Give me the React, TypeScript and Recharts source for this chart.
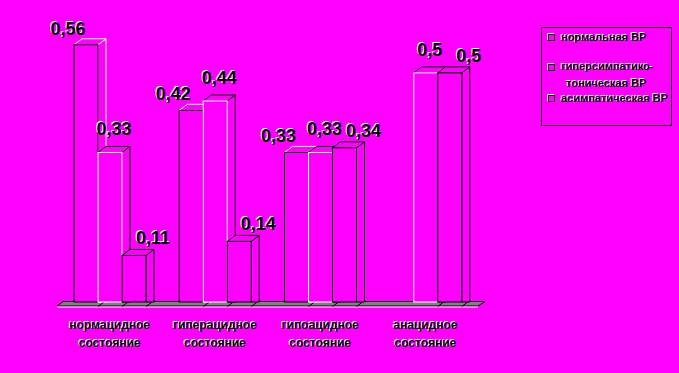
import { BarChart, Bar, XAxis, YAxis, LabelList, Legend, Customized } from 'recharts';

const categories = ['нормацидное состояние', 'гиперацидное состояние', 'гипоацидное состояние', 'анацидное состояние'];
const seriesNames = ['нормальная ВР', 'гиперсимпатико-тоническая ВР', 'асимпатическая ВР'];
const normalVR = [0.56, 0.42, 0.33, 0];
const hyperVR = [0.33, 0.44, 0.33, 0.5];
const asympVR = [0.11, 0.14, 0.34, 0.5];
const edgeTicks = [0, 1, 2, 3, 4];

const data = categories.map((name, i) => ({
  name,
  normal: normalVR[i],
  hyper: hyperVR[i],
  asymp: asympVR[i],
}));

const MAGENTA = '#ff00ff';
const FONT = '"Liberation Sans", Arial, sans-serif';
const W = 679;
const H = 373;
const LEFT = 57;
const RIGHT = 478;
const TOP = 26;
const BASE = 307;
const DX = 8;
const DY = 6;
const SINK = 5;

// black text with a white highlight, like the old office export
function ShadowText({ x, y, size, children, anchor = 'middle' }: any) {
  const common = { fontFamily: FONT, fontWeight: 700, fontSize: size, textAnchor: anchor };
  return (
    <g>
      <text x={x - 1} y={y - 1} fill="#fff" {...common}>{children}</text>
      <text x={x} y={y} fill="#000" {...common}>{children}</text>
    </g>
  );
}

function Box3D(props: any) {
  const { x, y, width: w, height: h, front, side } = props;
  if (!h || h <= 0) return null;
  const bottom = y + h - SINK;
  return (
    <g>
      <polygon
        points={`${x + w},${y} ${x + w + DX},${y - DY} ${x + w + DX},${bottom} ${x + w},${bottom}`}
        fill={MAGENTA}
        stroke={side}
      />
      <polygon
        points={`${x},${y} ${x + DX},${y - DY} ${x + w + DX},${y - DY} ${x + w},${y}`}
        fill={MAGENTA}
        stroke={side}
      />
      <rect x={x} y={y} width={w} height={bottom - y} fill={MAGENTA} stroke={front} />
      <line x1={x + w} y1={bottom + 4.5} x2={x + w + 6} y2={bottom} stroke="#000" />
    </g>
  );
}

const makeLabel = (dx: number, dy: number) => (p: any) => {
  const { x, y, width, value } = p;
  if (!value) return null;
  return (
    <ShadowText x={x + width / 2 + dx} y={y + dy} size={18}>
      {String(value).replace('.', ',')}
    </ShadowText>
  );
};

function Floor() {
  return (
    <g>
      <polygon
        points={`${LEFT},${BASE - 1} ${RIGHT},${BASE - 1} ${RIGHT + 7},${BASE - 5.5} ${LEFT + 6},${BASE - 5.5}`}
        fill="#808080"
        stroke="#000"
      />
      <line x1={LEFT} y1={BASE} x2={RIGHT} y2={BASE} stroke="#fff" />
    </g>
  );
}

function CategoryTick({ x, y, payload }: any) {
  const [a, b] = String(payload.value).split(' ');
  return (
    <g>
      <ShadowText x={x} y={y + 20} size={12}>{a}</ShadowText>
      <ShadowText x={x} y={y + 38} size={12}>{b}</ShadowText>
    </g>
  );
}

function LegendBox() {
  const line = (text: string, top: number, left = 19) => (
    <div
      style={{
        position: 'absolute',
        left,
        top,
        fontFamily: FONT,
        fontWeight: 700,
        fontSize: 11,
        lineHeight: '13px',
        color: '#000',
        whiteSpace: 'nowrap',
        textShadow: '-1px -1px 0 #fff',
      }}
    >
      {text}
    </div>
  );
  const square = (top: number) => (
    <div
      style={{
        position: 'absolute',
        left: 6,
        top,
        width: 5,
        height: 5,
        border: '1px solid #000',
        boxShadow: '-1px -1px 0 #fff',
      }}
    />
  );
  const [hyperA, hyperB] = ['гиперсимпатико-', 'тоническая ВР'];
  return (
    <div style={{ position: 'relative', width: 131, height: 99, border: '1px solid #000', boxSizing: 'border-box' }}>
      {square(6)}
      {line(seriesNames[0], 3)}
      {square(36)}
      {line(hyperA, 32)}
      {line(hyperB, 49, 24)}
      {square(67)}
      {line(seriesNames[2], 64)}
    </div>
  );
}

export default function App() {
  return (
    <div style={{ position: 'absolute', left: 0, top: 0, width: W, height: H, background: MAGENTA }}>
      <BarChart
        width={W}
        height={H}
        data={data}
        margin={{ top: TOP, left: LEFT, right: W - RIGHT, bottom: 6 }}
        barCategoryGap={17}
        barGap={0}
      >
        <Customized component={<Floor />} />
        <XAxis
          xAxisId="edge"
          type="number"
          domain={[0, 4]}
          ticks={edgeTicks}
          allowDataOverflow
          height={0}
          tick={false}
          tickSize={4}
          axisLine={{ stroke: '#fff' }}
          tickLine={{ stroke: '#fff' }}
        />
        <XAxis
          xAxisId="cat"
          dataKey="name"
          height={60}
          axisLine={false}
          tickLine={false}
          tickSize={0}
          interval={0}
          tick={<CategoryTick />}
        />
        <YAxis hide domain={[0, 0.6]} />
        <Legend
          layout="horizontal"
          verticalAlign="middle"
          align="center"
          content={<LegendBox />}
          wrapperStyle={{ position: 'absolute', left: 541, top: 27, width: 131, height: 99 }}
        />
        <Bar
          xAxisId="cat"
          dataKey="normal"
          name={seriesNames[0]}
          isAnimationActive={false}
          shape={(p: any) => <Box3D {...p} front="#000" side="#fff" />}
        >
          <LabelList dataKey="normal" content={makeLabel(-18, -10)} />
        </Bar>
        <Bar
          xAxisId="cat"
          dataKey="hyper"
          name={seriesNames[1]}
          isAnimationActive={false}
          shape={(p: any) => <Box3D {...p} front="#fff" side="#000" />}
        >
          <LabelList dataKey="hyper" content={makeLabel(4, -17)} />
        </Bar>
        <Bar
          xAxisId="cat"
          dataKey="asymp"
          name={seriesNames[2]}
          isAnimationActive={false}
          shape={(p: any) => <Box3D {...p} front="#000" side="#000" />}
        >
          <LabelList dataKey="asymp" content={makeLabel(19, -11)} />
        </Bar>
      </BarChart>
    </div>
  );
}
